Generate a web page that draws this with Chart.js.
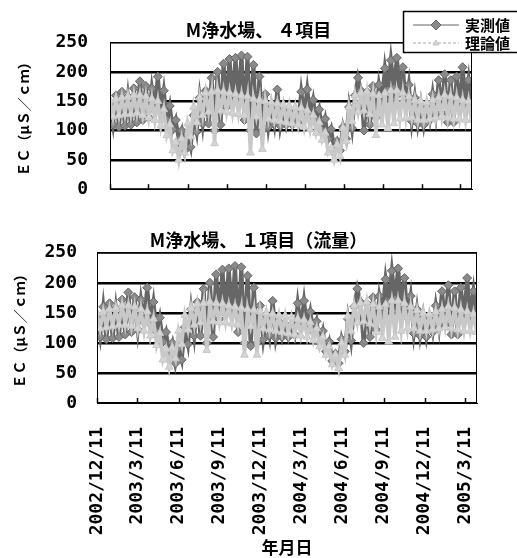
<!DOCTYPE html>
<html lang="ja">
<head>
<meta charset="utf-8">
<script src="https://cdn.jsdelivr.net/npm/chart.js@4/dist/chart.umd.min.js"></script>
<style>
  body { margin: 0; background: #fff; }
  #wrap { position: relative; width: 517px; height: 558px; overflow: hidden; }
  canvas { position: absolute; left: 0; }
  #top { top: 0; }
  #bottom { top: 222px; }
</style>
</head>
<body>
<div id="wrap">
  <canvas id="top" width="517" height="222"></canvas>
  <canvas id="bottom" width="517" height="336"></canvas>
</div>
<script>
// 日付軸
const startDate = "2002/12/11";
const stepDays = 7;
const endDate = "2005/4/7";
const tickLabels = ["2002/12/11", "2003/3/11", "2003/6/11", "2003/9/11", "2003/12/11",
  "2004/3/11", "2004/6/11", "2004/9/11", "2004/12/11", "2005/3/11"];
const yTicks = [0, 50, 100, 150, 200, 250];

const seriesNames = ["実測値", "理論値"];
const titleTop = "M浄水場、 ４項目";
const titleBottom = "M浄水場、 １項目（流量）";
const yTitle = "ＥＣ（μＳ／ｃｍ）";
const xTitle = "年月日";

// 実測値 (週ごと)
const measured = [142, 110, 160, 106, 166, 108, 158, 110, 172, 114,
  184, 118, 176, 122, 172, 135, 192, 132, 168, 118,
  142, 102, 118, 84, 100, 66, 92, 72, 126, 98,
  156, 112, 168, 112, 190, 100, 200, 110, 214, 140,
  222, 148, 224, 150, 228, 118, 226, 100, 212, 95,
  192, 100, 162, 106, 142, 112, 170, 108, 136, 110,
  132, 110, 130, 114, 166, 128, 170, 126, 152, 118,
  136, 100, 120, 86, 102, 70, 82, 66, 106, 86,
  140, 104, 160, 190, 168, 100, 166, 110, 176, 122,
  178, 148, 206, 168, 220, 172, 224, 164, 208, 142,
  178, 116, 156, 112, 146, 110, 142, 118, 162, 126,
  186, 130, 196, 114, 186, 114, 192, 138, 208, 146,
  186, 136];

// 理論値 4項目
const theory4 = [152, 124, 154, 126, 156, 128, 158, 128, 160, 130,
  160, 126, 158, 122, 154, 118, 150, 108, 136, 92,
  110, 66, 80, 50, 86, 62, 112, 90, 140, 114,
  156, 126, 164, 132, 166, 78, 168, 134, 166, 132,
  164, 130, 162, 128, 160, 126, 158, 62, 154, 124,
  152, 68, 150, 120, 148, 118, 146, 116, 144, 114,
  142, 112, 140, 110, 138, 106, 134, 102, 126, 96,
  114, 84, 96, 62, 70, 50, 76, 56, 104, 82,
  140, 116, 160, 132, 164, 134, 166, 128, 162, 92,
  160, 110, 164, 104, 168, 112, 168, 120, 164, 122,
  158, 122, 152, 118, 150, 118, 148, 120, 152, 122,
  156, 124, 160, 122, 158, 120, 156, 120, 152, 118,
  150, 118];

// 理論値 1項目(流量)
const theory1 = [150, 124, 152, 126, 156, 128, 158, 130, 162, 130,
  162, 128, 160, 124, 156, 120, 152, 112, 140, 96,
  116, 72, 90, 60, 92, 74, 120, 98, 146, 122,
  158, 130, 165, 134, 166, 88, 168, 136, 166, 134,
  165, 134, 162, 132, 160, 130, 158, 80, 156, 128,
  155, 80, 152, 124, 150, 122, 148, 120, 146, 118,
  145, 116, 142, 114, 140, 112, 138, 110, 134, 104,
  124, 94, 110, 80, 94, 64, 80, 58, 100, 80,
  144, 120, 162, 134, 166, 136, 168, 132, 164, 118,
  160, 108, 164, 102, 170, 110, 170, 120, 166, 124,
  160, 124, 154, 120, 150, 120, 148, 122, 152, 124,
  156, 126, 160, 124, 158, 122, 155, 120, 152, 120,
  148, 118];

function dayOf(s) {
  const [y, m, d] = s.split("/").map(Number);
  const [y0, m0, d0] = startDate.split("/").map(Number);
  return (Date.UTC(y, m - 1, d) - Date.UTC(y0, m0 - 1, d0)) / 86400000;
}
const tickDays = tickLabels.map(dayOf);
const maxDay = dayOf(endDate);

function toPoints(arr) {
  return arr.map((v, i) => ({ x: i * stepDays, y: v }));
}

const darkLine = "#666666";
const darkFill = "#8a8a8a";
const lightLine = "#c8c8c8";
const lightFill = "#d4d4d4";

Chart.defaults.font.family = "'DejaVu Sans Mono', monospace";
Chart.defaults.color = "#000";

// 枠と内向きの目盛り
const framePlugin = {
  id: "frame",
  afterDraw(chart) {
    const { ctx, chartArea: a, scales } = chart;
    ctx.save();
    ctx.strokeStyle = "#000";
    ctx.lineWidth = 1;
    ctx.strokeRect(a.left + 0.5, a.top + 0.5, a.right - a.left - 1, a.bottom - a.top - 1);
    ctx.lineWidth = 1.5;
    scales.x.ticks.forEach(t => {
      const px = Math.round(scales.x.getPixelForValue(t.value)) + 0.5;
      ctx.beginPath();
      ctx.moveTo(px, a.bottom);
      ctx.lineTo(px, a.bottom - 5);
      ctx.stroke();
    });
    ctx.restore();
  }
};

// 凡例 (グラフ右上に重ねる)
const legendBox = {
  id: "legendBox",
  afterDraw(chart) {
    const ctx = chart.ctx;
    const ds = chart.data.datasets;
    const x = 403, y = 11, w = 130, h = 41;
    ctx.save();
    ctx.fillStyle = "#fff";
    ctx.fillRect(x, y, w, h);
    ctx.strokeStyle = "#000";
    ctx.lineWidth = 1.5;
    ctx.strokeRect(x + 0.5, y + 0.5, w, h);
    const rows = [y + 14, y + 32];
    ds.forEach((d, i) => {
      const ry = rows[i];
      ctx.strokeStyle = i === 0 ? darkLine : "#aaaaaa";
      ctx.lineWidth = 1.2;
      ctx.setLineDash(i === 0 ? [] : [3, 2]);
      ctx.beginPath();
      ctx.moveTo(x + 10, ry);
      ctx.lineTo(x + 56, ry);
      ctx.stroke();
      ctx.setLineDash([]);
      ctx.fillStyle = d.pointBackgroundColor;
      ctx.strokeStyle = d.pointBorderColor;
      ctx.lineWidth = 1;
      const cx = x + 33;
      ctx.beginPath();
      if (i === 0) {
        ctx.moveTo(cx, ry - 5); ctx.lineTo(cx + 5, ry); ctx.lineTo(cx, ry + 5); ctx.lineTo(cx - 5, ry);
      } else {
        ctx.moveTo(cx, ry - 3); ctx.lineTo(cx + 3, ry + 2); ctx.lineTo(cx - 3, ry + 2);
      }
      ctx.closePath();
      ctx.fill();
      ctx.stroke();
      ctx.fillStyle = "#000";
      ctx.font = "bold 15px 'Noto Sans CJK JP'";
      ctx.textBaseline = "middle";
      ctx.fillText(d.label, x + 62, ry);
    });
    ctx.restore();
  }
};

function makeChart(id, theory, title, o) {
  return new Chart(document.getElementById(id), {
    type: "line",
    data: {
      datasets: [
        {
          label: seriesNames[0],
          data: toPoints(measured),
          order: 1,
          borderColor: darkLine,
          borderWidth: 4,
          pointStyle: "rectRot",
          pointRadius: 4.5,
          pointBackgroundColor: darkFill,
          pointBorderColor: darkLine,
          pointBorderWidth: 1
        },
        {
          label: seriesNames[1],
          data: toPoints(theory),
          order: 0,
          borderColor: lightLine,
          borderWidth: 3.5,
          pointStyle: "triangle",
          pointRadius: 4.5,
          pointBackgroundColor: lightFill,
          pointBorderColor: lightLine,
          pointBorderWidth: 1
        }
      ]
    },
    options: {
      responsive: false,
      animation: false,
      layout: { padding: 0 },
      plugins: {
        legend: { display: false },
        tooltip: { enabled: false },
        title: {
          display: true,
          text: title,
          color: "#000",
          font: { family: "'Noto Sans CJK JP'", size: 18, weight: "bold" },
          padding: o.titlePad
        }
      },
      scales: {
        x: {
          type: "linear",
          min: 0,
          max: maxDay,
          afterBuildTicks: s => { s.ticks = tickDays.map(v => ({ value: v })); },
          afterFit: s => { s.height = o.xHeight; },
          grid: { display: false },
          border: { display: true, color: "#000", width: 1 },
          ticks: {
            display: o.showLabels,
            autoSkip: false,
            maxRotation: 90,
            minRotation: 90,
            padding: 16,
            font: { size: 18, weight: "bold" },
            callback: (v, i) => tickLabels[i]
          },
          title: {
            display: o.showLabels,
            text: xTitle,
            font: { family: "'Noto Sans CJK JP'", size: 17, weight: "bold" },
            padding: { top: 0, bottom: 0 }
          }
        },
        y: {
          min: 0,
          max: 250,
          afterBuildTicks: s => { s.ticks = yTicks.map(v => ({ value: v })); },
          afterFit: s => { s.width = o.yWidth; },
          grid: {
            color: "#000",
            drawTicks: false,
            lineWidth: c => (c.tick.value === 0 || c.tick.value === 250) ? 1 : 2.5
          },
          border: { display: true, color: "#000", width: 1 },
          ticks: {
            padding: o.yPad,
            font: { size: 18, weight: "bold" }
          },
          title: {
            display: true,
            text: yTitle,
            font: { family: "'Noto Sans CJK JP'", size: 14, weight: "bold" },
            padding: { top: o.yTitlePad, bottom: 0 }
          }
        },
        // 右側の余白 (表題を画面中央に置くため)
        yRight: {
          position: "right",
          min: 0,
          max: 250,
          afterFit: s => { s.width = o.right; },
          grid: { display: false },
          border: { display: false },
          ticks: { display: false }
        }
      }
    },
    plugins: o.legend ? [framePlugin, legendBox] : [framePlugin]
  });
}

makeChart("top", theory4, titleTop, {
  right: 45, xHeight: 29, yWidth: 110, yPad: 22, yTitlePad: 15,
  titlePad: { top: 19, bottom: 2 }, showLabels: false, legend: true
});
makeChart("bottom", theory1, titleBottom, {
  right: 40, xHeight: 155, yWidth: 97, yPad: 20, yTitlePad: 11,
  titlePad: { top: 5, bottom: 1.4 }, showLabels: true, legend: false
});
</script>
</body>
</html>
